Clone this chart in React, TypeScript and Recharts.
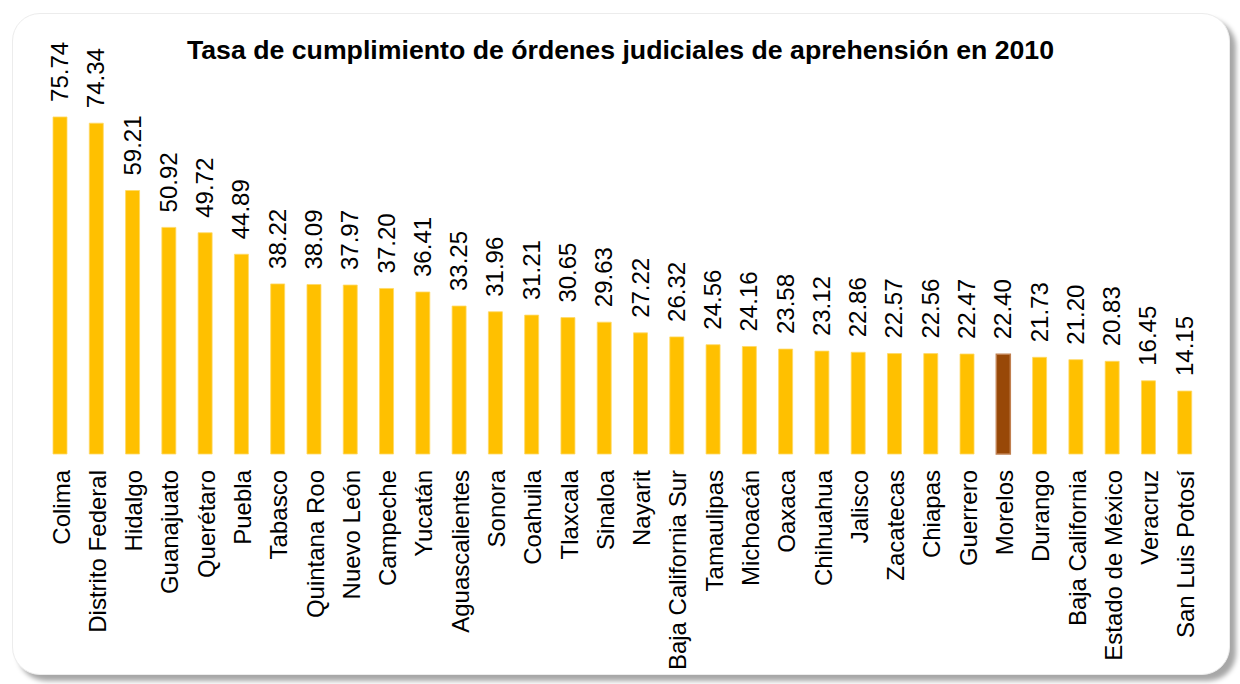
import React from "react";
import { BarChart, Bar, XAxis, YAxis, Cell, LabelList } from "recharts";

const states = [
  "Colima", "Distrito Federal", "Hidalgo", "Guanajuato", "Querétaro", "Puebla",
  "Tabasco", "Quintana Roo", "Nuevo León", "Campeche", "Yucatán", "Aguascalientes",
  "Sonora", "Coahuila", "Tlaxcala", "Sinaloa", "Nayarit", "Baja California Sur",
  "Tamaulipas", "Michoacán", "Oaxaca", "Chihuahua", "Jalisco", "Zacatecas",
  "Chiapas", "Guerrero", "Morelos", "Durango", "Baja California", "Estado de México",
  "Veracruz", "San Luis Potosí",
];
const rates = [
  75.74, 74.34, 59.21, 50.92, 49.72, 44.89, 38.22, 38.09, 37.97, 37.2, 36.41, 33.25,
  31.96, 31.21, 30.65, 29.63, 27.22, 26.32, 24.56, 24.16, 23.58, 23.12, 22.86, 22.57,
  22.56, 22.47, 22.4, 21.73, 21.2, 20.83, 16.45, 14.15,
];
const highlighted = "Morelos";
const title = "Tasa de cumplimiento de órdenes judiciales de aprehensión en 2010";

const data = states.map((s, i) => ({ state: s, rate: rates[i] }));

const FONT = "'Liberation Sans', Arial, sans-serif";

const CategoryTick = (props: any) => {
  const { x, y, payload } = props;
  return (
    <text
      transform={`translate(${x + 9.5},${y + 8}) rotate(-90)`}
      textAnchor="end"
      fontFamily={FONT}
      fontSize={24}
      fill="#000"
    >
      {payload.value}
    </text>
  );
};

const ValueLabel = (props: any) => {
  const { x, y, width, value } = props;
  const cx = x + width / 2;
  return (
    <text
      transform={`translate(${cx + 8},${y - 15}) rotate(-90)`}
      textAnchor="start"
      fontFamily={FONT}
      fontSize={24}
      fill="#000"
    >
      {Number(value).toFixed(2)}
    </text>
  );
};

export default function App() {
  return (
    <div style={{ position: "absolute", left: 0, top: 0, width: 1240, height: 684, background: "#fff", overflow: "hidden" }}>
      <div
        style={{
          position: "absolute",
          left: 12,
          top: 13,
          width: 1216,
          height: 660,
          borderRadius: 28,
          background: "#fff",
          border: "1px solid #ececec",
          boxShadow: "6px 6px 5px rgba(0,0,0,0.35)",
        }}
      />
      <div style={{ position: "absolute", left: 0, top: 0 }}>
        <BarChart
          width={1240}
          height={684}
          data={data}
          margin={{ top: 98, right: 37, bottom: 10, left: 42 }}
          barCategoryGap={0}
        >
          <text x={620.5} y={58.5} textAnchor="middle" fontFamily={FONT} fontWeight="bold" fontSize={26.7} fill="#000">
            {title}
          </text>
          <XAxis
            dataKey="state"
            axisLine={false}
            tickLine={false}
            interval={0}
            height={220}
            tick={<CategoryTick />}
          />
          <YAxis hide domain={[0, 80]} />
          <Bar dataKey="rate" barSize={14} isAnimationActive={false}>
            {data.map((d) => (
              <Cell
                key={d.state}
                fill={d.state === highlighted ? "#984807" : "#FFC000"}
                stroke={d.state === highlighted ? "#C08050" : "#FFD966"}
                strokeWidth={d.state === highlighted ? 1.5 : 0.8}
              />
            ))}
            <LabelList dataKey="rate" content={<ValueLabel />} />
          </Bar>
        </BarChart>
      </div>
    </div>
  );
}
